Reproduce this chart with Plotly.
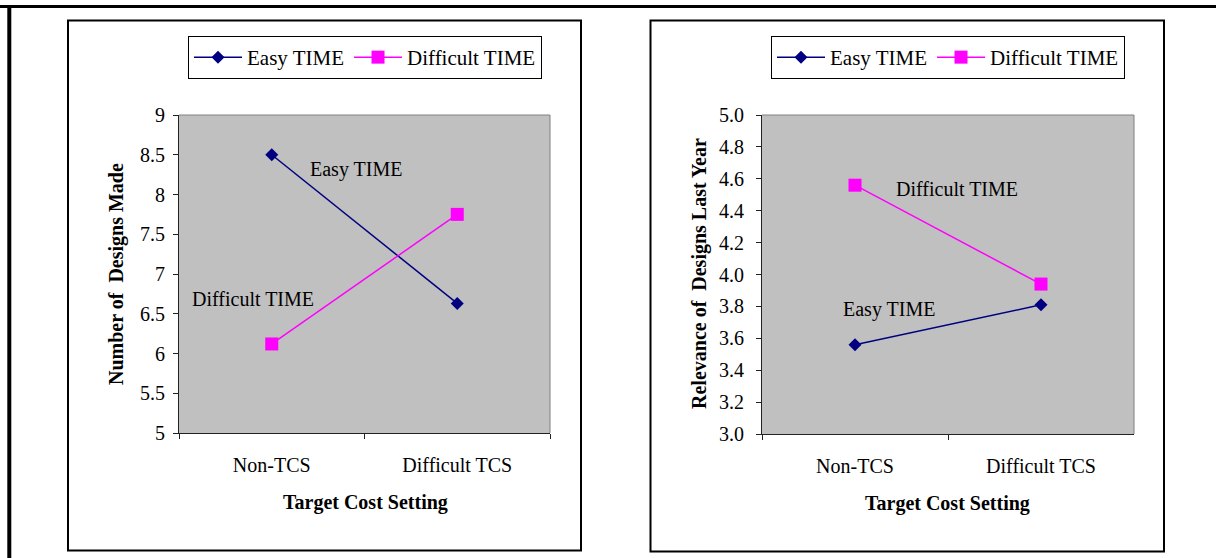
import plotly.graph_objects as go

W, H = 1216, 558

# Data
categories = ["Non-TCS", "Difficult TCS"]
designs_easy = [8.5, 6.63]
designs_difficult = [6.12, 7.75]
relevance_easy = [3.56, 3.81]
relevance_difficult = [4.56, 3.94]

series_names = ["Easy TIME", "Difficult TIME"]
left_ticks = [5, 5.5, 6, 6.5, 7, 7.5, 8, 8.5, 9]
right_ticks = [3.0, 3.2, 3.4, 3.6, 3.8, 4.0, 4.2, 4.4, 4.6, 4.8, 5.0]

NAVY = "#000080"
MAGENTA = "#FF00FF"
FONT = "Liberation Serif"


def px(x):
    return x / W


def py(y):
    return 1 - y / H


fig = go.Figure()

panels = [
    dict(xa="x", ya="y", easy=designs_easy, diff=designs_difficult, legend="legend"),
    dict(xa="x2", ya="y2", easy=relevance_easy, diff=relevance_difficult, legend="legend2"),
]

for p in panels:
    fig.add_trace(go.Scatter(
        x=categories, y=p["easy"], name=series_names[0], mode="lines+markers",
        line=dict(color=NAVY, width=1.5),
        marker=dict(symbol="diamond", size=10, color=NAVY),
        xaxis=p["xa"], yaxis=p["ya"], legend=p["legend"],
    ))
    fig.add_trace(go.Scatter(
        x=categories, y=p["diff"], name=series_names[1], mode="lines+markers",
        line=dict(color=MAGENTA, width=1.5),
        marker=dict(symbol="square", size=13, color=MAGENTA),
        xaxis=p["xa"], yaxis=p["ya"], legend=p["legend"],
    ))

axis_font = dict(family=FONT, size=20, color="black")

xaxis_common = dict(
    type="category", range=[-0.5, 1.5], tickson="boundaries",
    ticks="outside", ticklen=5, tickcolor="#222", showline=True,
    linecolor="#222", linewidth=1, showgrid=False, zeroline=False,
    tickfont=axis_font, ticklabelstandoff=14, fixedrange=True,
    automargin=False,
)

legend_common = dict(
    orientation="h", yanchor="top", y=py(36), xanchor="center",
    bgcolor="white", bordercolor="black", borderwidth=1,
    itemwidth=48, tracegroupgap=0,
    font=dict(family=FONT, size=21, color="black"),
)

fig.update_layout(
    template="none",
    width=W, height=H, autosize=False,
    margin=dict(l=0, r=0, t=0, b=0, pad=0),
    paper_bgcolor="white",
    plot_bgcolor="#C0C0C0",
    font=dict(family=FONT, size=20, color="black"),
    xaxis=dict(domain=[px(179), px(550)], anchor="y", **xaxis_common),
    xaxis2=dict(domain=[px(762), px(1134)], anchor="y2", **xaxis_common),
    yaxis=dict(
        domain=[py(433), py(115)], anchor="x", range=[5, 9],
        tickvals=left_ticks, ticks="outside", ticklen=5, tickcolor="#222",
        showline=True, linecolor="#222", linewidth=1, showgrid=False,
        zeroline=False, tickfont=axis_font, ticklabelstandoff=4,
        automargin=False, fixedrange=True,
    ),
    yaxis2=dict(
        domain=[py(434), py(115)], anchor="x2", range=[3, 5],
        tickvals=right_ticks, tickformat=".1f", ticks="outside", ticklen=5,
        tickcolor="#222", showline=True, linecolor="#222", linewidth=1,
        showgrid=False, zeroline=False, tickfont=axis_font, ticklabelstandoff=8,
        automargin=False, fixedrange=True,
    ),
    legend=dict(x=px(365), **legend_common),
    legend2=dict(x=px(948), **legend_common),
    showlegend=True,
)

shapes = []
# outer frame (top and left edges)
shapes.append(dict(type="line", xref="paper", yref="paper",
                   x0=0, x1=1, y0=py(6.5), y1=py(6.5),
                   line=dict(color="black", width=3)))
shapes.append(dict(type="line", xref="paper", yref="paper",
                   x0=px(9.3), x1=px(9.3), y0=0, y1=py(5),
                   line=dict(color="black", width=4)))
# chart panels
for x0, x1, y0, y1 in [(68, 581, 20.5, 550.5), (650.5, 1164, 20.5, 551.5)]:
    shapes.append(dict(type="rect", xref="paper", yref="paper",
                       x0=px(x0), x1=px(x1), y0=py(y1), y1=py(y0),
                       line=dict(color="black", width=2), layer="below"))
# grey top/right plot-area edges
for x0, x1, y0, y1 in [(179, 550, 115, 433), (762, 1134, 115, 434)]:
    shapes.append(dict(type="line", xref="paper", yref="paper",
                       x0=px(x0), x1=px(x1), y0=py(y0), y1=py(y0),
                       line=dict(color="#808080", width=1)))
    shapes.append(dict(type="line", xref="paper", yref="paper",
                       x0=px(x1), x1=px(x1), y0=py(y0), y1=py(y1),
                       line=dict(color="#808080", width=1)))
fig.update_layout(shapes=shapes)

ann = []
# series labels inside the plots
for text, x, y in [("Easy TIME", 356, 169), ("Difficult TIME", 253, 299),
                   ("Difficult TIME", 957, 189), ("Easy TIME", 889, 309)]:
    ann.append(dict(text=text, x=px(x), y=py(y), xref="paper", yref="paper",
                    showarrow=False, xanchor="center", yanchor="middle",
                    font=dict(family=FONT, size=20, color="black")))
# axis titles
bold = dict(family=FONT, size=20, color="black", weight="bold")
for text, x, y, angle in [
    ("Number of\u00a0 Designs Made", 116, 274, -90),
    ("Relevance of\u00a0 Designs Last Year", 699, 274, -90),
    ("Target Cost Setting", 365, 502, 0),
    ("Target Cost Setting", 947, 503, 0),
]:
    ann.append(dict(text=text, x=px(x), y=py(y), xref="paper", yref="paper",
                    showarrow=False, xanchor="center", yanchor="middle",
                    textangle=angle, font=bold))
fig.update_layout(annotations=ann)

fig.write_html("out.html")
